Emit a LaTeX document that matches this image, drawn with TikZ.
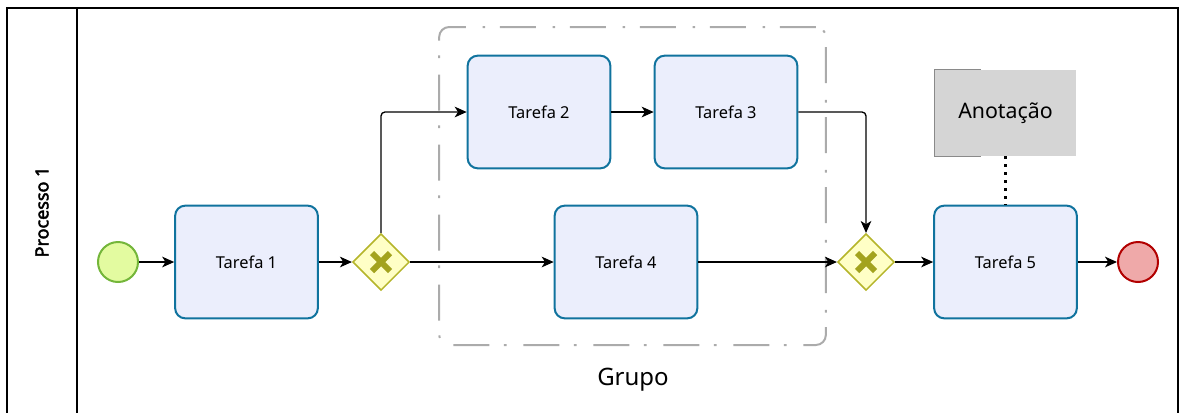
\documentclass[tikz,border=0pt]{standalone}
\usepackage{fontspec}
\setmainfont{Noto Sans}[AutoFakeBold=2.5]
\usetikzlibrary{shapes.geometric,arrows.meta}
\definecolor{taskline}{HTML}{10739E}
\definecolor{taskfill}{HTML}{EBEEFC}
\definecolor{startfill}{HTML}{E3FBA0}
\definecolor{startline}{HTML}{74B63A}
\definecolor{gwfill}{HTML}{FFFFC6}
\definecolor{gwline}{HTML}{B5B52A}
\definecolor{gwmark}{HTML}{A3A31E}
\definecolor{stopfill}{HTML}{EFA9A9}
\definecolor{stopline}{HTML}{B20000}
\definecolor{notefill}{HTML}{D5D5D5}
\definecolor{noteline}{HTML}{8A8A8A}
\definecolor{groupline}{HTML}{ABABAB}

\begin{document}
\begin{tikzpicture}[x=0.75pt,y=-0.75pt,
      task/.style={draw=taskline,fill=taskfill,line width=1.5pt,rounded corners=7.5pt,
        minimum width=107pt,minimum height=84.5pt,font=\fontsize{12.3}{14}\selectfont},
      gateway/.style={diamond,aspect=1,draw=gwline,fill=gwfill,line width=1.1pt,
        inner sep=0pt,minimum size=42.5pt},
      event/.style={circle,line width=1.5pt,inner sep=0pt,minimum size=30pt},
      flow/.style={line width=1pt,-{Stealth[length=9pt,width=8pt,inset=2.5pt]}}]
      \useasboundingbox (0,0) rectangle (1180,412);
      \clip (0,0) rectangle (1180,412);
      % pool
      \draw[line width=1.1pt] (7,8) rectangle (1178,416);
      \draw[line width=1.1pt] (77,8) -- (77,416);
      \node[rotate=90,font=\fontsize{13.5}{15}\selectfont\bfseries] (lane) at (42,212) {Processo 1};
      % group
      \node[draw=groupline,line width=1.5pt,rounded corners=7.5pt,minimum width=290pt,
        minimum height=238.5pt,dash pattern=on 27pt off 11pt on 2pt off 12.5pt] (grp) at (632.5,186) {};
      \node[font=\fontsize{18}{20}\selectfont] (grplabel) at (633,380) {Grupo};
      % events, tasks, gateways
      \node[event,draw=startline,fill=startfill] (start) at (118,262) {};
      \node[task] (t1) at (246.5,262) {Tarefa 1};
      \node[gateway] (g1) at (381,262) {};
      \node[task] (t2) at (539,112) {Tarefa 2};
      \node[task] (t3) at (726,112) {Tarefa 3};
      \node[task] (t4) at (626,262) {Tarefa 4};
      \node[gateway] (g2) at (866,262) {};
      \node[task] (t5) at (1005.5,262) {Tarefa 5};
      \node[event,draw=stopline,fill=stopfill] (stop) at (1138,262) {};
      \foreach \g in {g1,g2}
        \draw[gwmark,line width=4.5pt] ([shift={(-9,-9)}]\g.center) -- ([shift={(9,9)}]\g.center)
          ([shift={(-9,9)}]\g.center) -- ([shift={(9,-9)}]\g.center);
      % annotation
      \node[fill=notefill,minimum width=105.75pt,minimum height=64.5pt,
        font=\fontsize{16}{18}\selectfont] (note) at (1005.5,113) {Anotação};
      \draw[noteline,line width=1pt] ([xshift=34.5pt]note.north west) -- (note.north west)
        -- (note.south west) -- ([xshift=34.5pt]note.south west);
      \draw[line width=2pt,dash pattern=on 2pt off 4pt] (note) -- (t5);
      % sequence flows
      \draw[flow] (start) -- (t1);
      \draw[flow] (t1) -- (g1);
      \draw[flow,rounded corners=3pt] (g1.north) |- (t2);
      \draw[flow] (g1) -- (t4);
      \draw[flow] (t2) -- (t3);
      \draw[flow,rounded corners=3pt] (t3) -| (g2.north);
      \draw[flow] (t4) -- (g2);
      \draw[flow] (g2) -- (t5);
      \draw[flow] (t5) -- (stop);
    \end{tikzpicture}
\end{document}
